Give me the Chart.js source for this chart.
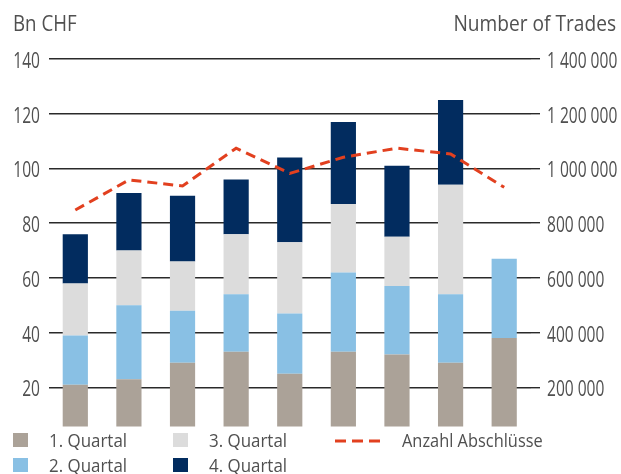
<!DOCTYPE html>
<html>
<head>
<meta charset="utf-8">
<script src="https://cdn.jsdelivr.net/npm/chart.js@4/dist/chart.umd.min.js"></script>
<style>
  html, body { margin: 0; padding: 0; background: #fff; }
  #wrap { position: relative; width: 621px; height: 474px; }
</style>
</head>
<body>
<div id="wrap"><canvas id="myChart" width="621" height="474"></canvas></div>
<script>
// values (Bn CHF per quarter, trades per year)
const years = ['1', '2', '3', '4', '5', '6', '7', '8', '9'];
const q1 = [21, 23, 29, 33, 25, 33, 32, 29, 38];
const q2 = [18, 27, 19, 21, 22, 29, 25, 25, 29];
const q3 = [19, 20, 18, 22, 26, 25, 18, 40, null];
const q4 = [18, 21, 24, 20, 31, 30, 26, 31, null];
const trades = [848000, 958000, 936000, 1074000, 982000, 1041000, 1074000, 1053000, 931000];

const leftTicks = [20, 40, 60, 80, 100, 120, 140];
const rightTicks = [200000, 400000, 600000, 800000, 1000000, 1200000, 1400000];

const FONT = '"Open Sans", "Noto Sans", sans-serif';
const TEXT = '#505050';
const GRID = '#2a2a2a';

function fmtThousands(v) {
    return String(v).replace(/\B(?=(\d{3})+(?!\d))/g, ' ');
}

// the original uses a condensed face, so squeeze the text horizontally
function narrowText(ctx, text, x, y, align, sx) {
    ctx.save();
    ctx.translate(x, y);
    ctx.scale(sx, 1);
    ctx.textAlign = align;
    ctx.fillText(text, 0, 0);
    ctx.restore();
}

// axis titles and tick labels
const textPlugin = {
    id: 'axisText',
    afterDraw(chart) {
        const ctx = chart.ctx;
        ctx.save();
        ctx.fillStyle = TEXT;
        ctx.textBaseline = 'alphabetic';

        ctx.font = '22px ' + FONT;
        narrowText(ctx, 'Bn CHF', 13, 31, 'left', 0.85);
        narrowText(ctx, 'Number of Trades', 616, 31, 'right', 0.87);

        ctx.font = '21px ' + FONT;
        const y = chart.scales.y;
        y.ticks.forEach(t => {
            narrowText(ctx, String(t.value), 40, y.getPixelForValue(t.value) + 9, 'right', 0.74);
        });
        const y1 = chart.scales.y1;
        y1.ticks.forEach(t => {
            narrowText(ctx, fmtThousands(t.value), 547, y1.getPixelForValue(t.value) + 9, 'left', 0.74);
        });
        ctx.restore();
    }
};

// legend in three columns, two rows
const legendPlugin = {
    id: 'quarterLegend',
    afterDraw(chart) {
        const ctx = chart.ctx;
        const spots = [
            { x: 13, y: 433 }, { x: 13, y: 458 },
            { x: 173, y: 433 }, { x: 173, y: 458 },
            { x: 335, y: 433 }
        ];
        ctx.save();
        ctx.font = '18px ' + FONT;
        ctx.textBaseline = 'alphabetic';
        chart.data.datasets.forEach((ds, i) => {
            const p = spots[i];
            if (ds.type === 'line') {
                ctx.strokeStyle = ds.borderColor;
                ctx.lineWidth = 3;
                ctx.setLineDash([11, 6]);
                ctx.beginPath();
                ctx.moveTo(p.x, p.y + 8);
                ctx.lineTo(p.x + 45, p.y + 8);
                ctx.stroke();
                ctx.setLineDash([]);
                ctx.fillStyle = TEXT;
                narrowText(ctx, ds.label, p.x + 67, p.y + 14, 'left', 0.91);
            } else {
                ctx.fillStyle = ds.backgroundColor;
                ctx.fillRect(p.x, p.y, 15, 14);
                ctx.fillStyle = TEXT;
                narrowText(ctx, ds.label, p.x + 36, p.y + 14, 'left', 0.94);
            }
        });
        ctx.restore();
    }
};

const ctx = document.getElementById('myChart').getContext('2d');
new Chart(ctx, {
    data: {
        labels: years,
        datasets: [
            { type: 'bar', label: '1. Quartal', data: q1, backgroundColor: '#aba298', order: 1 },
            { type: 'bar', label: '2. Quartal', data: q2, backgroundColor: '#89c0e4', order: 1 },
            { type: 'bar', label: '3. Quartal', data: q3, backgroundColor: '#dcdcdc', order: 1 },
            { type: 'bar', label: '4. Quartal', data: q4, backgroundColor: '#022c5f', order: 1 },
            {
                type: 'line',
                label: 'Anzahl Abschlüsse',
                data: trades,
                yAxisID: 'y1',
                borderColor: '#e2401f',
                borderWidth: 3,
                borderDash: [10, 6],
                pointRadius: 0,
                tension: 0,
                fill: false,
                order: 0
            }
        ]
    },
    options: {
        responsive: false,
        animation: false,
        events: [],
        datasets: {
            bar: { categoryPercentage: 1, barPercentage: 0.47 }
        },
        layout: { padding: { top: 59, bottom: 47.5, left: 0, right: 0 } },
        plugins: {
            legend: { display: false },
            tooltip: { enabled: false }
        },
        scales: {
            x: {
                stacked: true,
                display: false
            },
            y: {
                stacked: true,
                position: 'left',
                min: 5.7,
                max: 140,
                afterBuildTicks: (scale) => {
                    scale.ticks = leftTicks.map(v => ({ value: v }));
                },
                afterFit: (scale) => { scale.width = 48.5; },
                border: { display: false },
                grid: { color: GRID, lineWidth: 1.4, drawTicks: false },
                ticks: { display: false }
            },
            y1: {
                position: 'right',
                min: 57000,
                max: 1400000,
                afterBuildTicks: (scale) => {
                    scale.ticks = rightTicks.map(v => ({ value: v }));
                },
                afterFit: (scale) => { scale.width = 90; },
                border: { display: false },
                grid: { drawOnChartArea: false, drawTicks: true, tickLength: 9, color: GRID, lineWidth: 1.4 },
                ticks: { display: false }
            }
        }
    },
    plugins: [textPlugin, legendPlugin]
});
</script>
</body>
</html>
